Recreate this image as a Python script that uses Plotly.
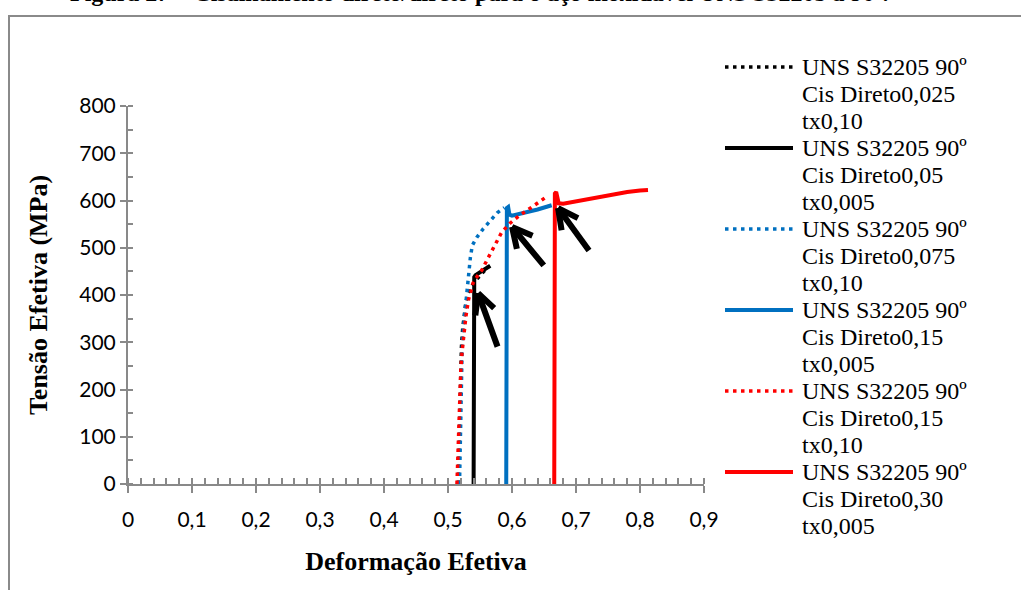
import math
import plotly.graph_objects as go

# ---------------- data ----------------
series_names = [
    "UNS S32205 90º Cis Direto0,025 tx0,10",
    "UNS S32205 90º Cis Direto0,05 tx0,005",
    "UNS S32205 90º Cis Direto0,075 tx0,10",
    "UNS S32205 90º Cis Direto0,15 tx0,005",
    "UNS S32205 90º Cis Direto0,15 tx0,10",
    "UNS S32205 90º Cis Direto0,30 tx0,005",
]
legend_lines = [
    ["UNS S32205 90º", "Cis Direto0,025", "tx0,10"],
    ["UNS S32205 90º", "Cis Direto0,05", "tx0,005"],
    ["UNS S32205 90º", "Cis Direto0,075", "tx0,10"],
    ["UNS S32205 90º", "Cis Direto0,15", "tx0,005"],
    ["UNS S32205 90º", "Cis Direto0,15", "tx0,10"],
    ["UNS S32205 90º", "Cis Direto0,30", "tx0,005"],
]

s1_x = [0.516, 0.517, 0.518, 0.519, 0.520, 0.521, 0.523, 0.525, 0.528, 0.532, 0.538, 0.546, 0.555, 0.563]
s1_y = [0, 60, 120, 180, 240, 290, 330, 360, 385, 405, 420, 435, 448, 460]

s2_x = [0.540, 0.540, 0.541, 0.543, 0.548, 0.555, 0.562, 0.566]
s2_y = [0, 420, 438, 442, 446, 452, 458, 462]

s3_x = [0.518, 0.519, 0.520, 0.522, 0.524, 0.526, 0.528, 0.530, 0.532, 0.535, 0.538, 0.545, 0.555, 0.565, 0.577, 0.588]
s3_y = [0, 100, 200, 280, 330, 360, 395, 420, 450, 480, 505, 522, 540, 555, 574, 585]

s4_x = [0.591, 0.591, 0.592, 0.594, 0.596, 0.600, 0.620, 0.640, 0.662]
s4_y = [0, 560, 584, 586, 570, 568, 574, 581, 590]

s5_x = [0.514, 0.515, 0.516, 0.517, 0.518, 0.520, 0.522, 0.525, 0.528, 0.532, 0.539, 0.546, 0.553,
        0.5625, 0.570, 0.576, 0.584, 0.597, 0.6125, 0.631, 0.647, 0.656]
s5_y = [0, 50, 100, 150, 200, 241, 280, 320, 355, 390, 425, 440, 453, 478, 497, 512, 533, 552, 569, 586, 601, 610]

s6_x = [0.666, 0.666, 0.667, 0.669, 0.671, 0.673, 0.680, 0.695, 0.715, 0.7375, 0.760, 0.780, 0.800, 0.8125]
s6_y = [0, 590, 615, 618, 600, 594, 593, 597, 602, 607, 613, 618, 621, 622]

x_tick_vals = [0, 0.1, 0.2, 0.3, 0.4, 0.5, 0.6, 0.7, 0.8, 0.9]
x_tick_text = ["0", "0,1", "0,2", "0,3", "0,4", "0,5", "0,6", "0,7", "0,8", "0,9"]
y_tick_vals = [0, 100, 200, 300, 400, 500, 600, 700, 800]
y_tick_text = ["0", "100", "200", "300", "400", "500", "600", "700", "800"]

# arrow tips (data coords)
arrow_tip_x = [0.547, 0.600, 0.672]
arrow_tip_y = [404, 544, 584]

# ---------------- style ----------------
xs = [s1_x, s2_x, s3_x, s4_x, s5_x, s6_x]
ys = [s1_y, s2_y, s3_y, s4_y, s5_y, s6_y]
colors = ["#000000", "#000000", "#0070C0", "#0070C0", "#FF0000", "#FF0000"]
dot = "3.5px,4.5px"
dashes = [dot, "solid", dot, "solid", dot, "solid"]
widths = [3.5, 4, 3.5, 4, 3.5, 4]

W, H = 1021, 590
L, R, T, B = 128, 704, 106, 484  # plot area in pixels


def px2x(px):
    return (px - L) / (R - L)


def py2y(py):
    return (B - py) / (B - T)


fig = go.Figure()
for i in range(6):
    fig.add_trace(go.Scatter(
        x=xs[i], y=ys[i], mode="lines", name=series_names[i],
        line=dict(color=colors[i], width=widths[i], dash=dashes[i]),
        showlegend=False,
    ))

axis_grey = "#898989"
tick_font = dict(family="Lato, Carlito, sans-serif", size=21, color="#000000")
title_font = dict(family="Liberation Serif, Times New Roman, serif", size=26, color="#000000")

fig.update_layout(
    width=W, height=H,
    margin=dict(l=L, r=W - R, t=T, b=H - B, pad=0),
    paper_bgcolor="white", plot_bgcolor="white",
    showlegend=False,
    xaxis=dict(
        range=[0, 0.9], showgrid=False, zeroline=False,
        showline=True, linecolor=axis_grey, linewidth=2,
        tickvals=x_tick_vals, ticktext=x_tick_text,
        ticks="outside", ticklen=7, tickwidth=2, tickcolor=axis_grey,
        ticklabelstandoff=9,
        minor=dict(ticks="inside", dtick=0.02, ticklen=6, tickwidth=1.5, tickcolor=axis_grey),
        tickfont=tick_font,
        title=dict(text="<b>Deformação Efetiva</b>", font=title_font, standoff=22),
    ),
    yaxis=dict(
        range=[0, 800], showgrid=False, zeroline=False,
        showline=True, linecolor=axis_grey, linewidth=2,
        tickvals=y_tick_vals, ticktext=y_tick_text,
        ticks="outside", ticklen=6, tickwidth=2, tickcolor=axis_grey,
        minor=dict(ticks="inside", dtick=50, ticklen=5, tickwidth=1.5, tickcolor=axis_grey),
        tickfont=tick_font,
        title=dict(text="<b>Tensão Efetiva (MPa)</b>", font=title_font, standoff=24),
    ),
    xaxis2=dict(
        range=[0, 0.9], overlaying="x", anchor="y", side="bottom",
        showgrid=False, zeroline=False, showline=False, showticklabels=False,
        tickvals=x_tick_vals, ticks="inside", ticklen=6, tickwidth=2, tickcolor=axis_grey,
    ),
    yaxis2=dict(
        range=[0, 800], overlaying="y", anchor="x", side="left",
        showgrid=False, zeroline=False, showline=False, showticklabels=False,
        tickvals=y_tick_vals, ticks="inside", ticklen=5, tickwidth=2, tickcolor=axis_grey,
    ),
)

shapes = []
annotations = []

# outer frame (chart area border, extending past the crop)
shapes.append(dict(type="rect", xref="paper", yref="paper",
                   x0=px2x(9), x1=px2x(1200), y0=py2y(800), y1=py2y(16),
                   line=dict(color="#8a8a8a", width=2), fillcolor="rgba(0,0,0,0)", layer="below"))

# clipped caption above the chart (cut off at the top edge, as in the source)
annotations.append(dict(
    text="<b>Figura 27 – Cisalhamento direto/direto para o aço inoxidável UNS S32205 a 90º.</b>",
    xref="paper", yref="paper", x=px2x(479), y=py2y(8.5), xanchor="center", yanchor="bottom",
    showarrow=False, font=dict(family="Liberation Serif, serif", size=24, color="#000000"),
))

# manual legend
leg_font = dict(family="Liberation Serif, Times New Roman, serif", size=24, color="#000000")
for i in range(6):
    y0 = 67 + 81 * i
    shapes.append(dict(type="line", xref="paper", yref="paper",
                       x0=px2x(725), x1=px2x(793), y0=py2y(y0), y1=py2y(y0),
                       line=dict(color=colors[i], width=widths[i], dash=dashes[i])))
    for k, txt in enumerate(legend_lines[i]):
        annotations.append(dict(text=txt, xref="paper", yref="paper",
                                x=px2x(800), y=py2y(y0 + 27 * k), xanchor="left", yanchor="middle",
                                showarrow=False, font=leg_font))

# black arrows pointing at yield points
shaft = [(20, 55), (33, 40), (32, 44)]
for i in range(3):
    dx, dy = shaft[i]
    ang = math.atan2(dy, dx)
    segs = [(dx, dy)]
    for s in (-1, 1):
        a = ang + s * math.radians(27)
        segs.append((24 * math.cos(a), 24 * math.sin(a)))
    for (ax, ay) in segs:
        annotations.append(dict(x=arrow_tip_x[i], y=arrow_tip_y[i], xref="x", yref="y",
                                ax=ax, ay=ay, text="", showarrow=True, arrowhead=0,
                                arrowwidth=6, arrowcolor="#000000", standoff=0, startstandoff=0))

fig.update_layout(shapes=shapes, annotations=annotations)
fig.write_html("out.html")
